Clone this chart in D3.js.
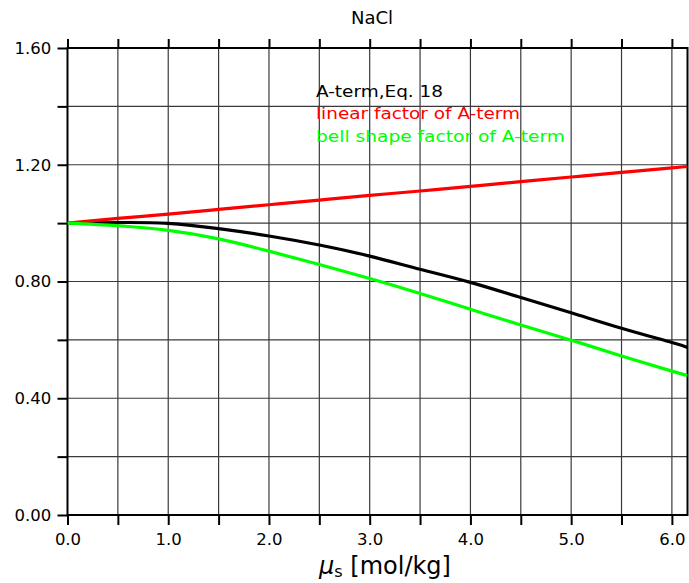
<!DOCTYPE html>
<html><head><meta charset="utf-8">
<script src="https://cdn.jsdelivr.net/npm/d3@7"></script>
<style>body{margin:0;background:#fff}svg{display:block}</style>
</head><body>
<svg id="c" width="689" height="583"></svg>
<script>
const xVals = [0, 0.5, 1, 1.5, 2, 2.5, 3, 3.5, 4, 4.5, 5, 5.5, 6, 6.155];
const aTerm = [1.0, 1.002, 0.999, 0.981, 0.956, 0.925, 0.887, 0.842, 0.797, 0.745, 0.693, 0.640, 0.591, 0.574];
const linearFactor = [1.0, 1.016, 1.031, 1.047, 1.063, 1.079, 1.095, 1.110, 1.126, 1.142, 1.158, 1.174, 1.189, 1.194];
const bellFactor = [1.0, 0.991, 0.975, 0.946, 0.904, 0.858, 0.810, 0.759, 0.705, 0.651, 0.599, 0.545, 0.493, 0.478];
const xTicks = [0,0.5,1,1.5,2,2.5,3,3.5,4,4.5,5,5.5,6];
const xLabels = [0,1,2,3,4,5,6];
const yTicks = [0,0.2,0.4,0.6,0.8,1.0,1.2,1.4,1.6];
const yLabels = [0,0.4,0.8,1.2,1.6];
const legendTexts = ["A-term,Eq. 18","linear factor of A-term","bell shape factor of A-term"];
const colors = ["#000000","#ff0000","#00ff00"];

const svg = d3.select("#c");
const L=67.5, R=687.5, T=48, B=515;
const x = d3.scaleLinear().domain([0,6.155]).range([L,R]);
const y = d3.scaleLinear().domain([0,1.6]).range([B,T]);
const font = "DejaVu Sans, Liberation Sans, sans-serif";

// grid
svg.append("g").selectAll("line").data(xTicks.slice(1)).join("line")
  .attr("x1",d=>x(d)).attr("x2",d=>x(d)).attr("y1",T).attr("y2",B)
  .attr("stroke","#3a3a3a").attr("stroke-width",1.2);
svg.append("g").selectAll("line").data(yTicks.slice(1)).join("line")
  .attr("x1",L).attr("x2",R).attr("y1",d=>y(d)).attr("y2",d=>y(d))
  .attr("stroke","#3a3a3a").attr("stroke-width",1.2);

// axes
const fmtX = d3.format(".1f"), fmtY = d3.format(".2f");
const gBottom = svg.append("g").attr("transform",`translate(0,${B})`)
  .call(d3.axisBottom(x).tickValues(xTicks).tickSizeInner(10).tickSizeOuter(0).tickFormat(d=>xLabels.includes(d)?fmtX(d):""));
const gTop = svg.append("g").attr("transform",`translate(0,${T})`)
  .call(d3.axisTop(x).tickValues(xTicks).tickSizeInner(9).tickSizeOuter(0).tickFormat(""));
const gLeft = svg.append("g").attr("transform",`translate(${L},0)`)
  .call(d3.axisLeft(y).tickValues(yTicks).tickSizeInner(10).tickSizeOuter(0).tickFormat(d=>yLabels.some(v=>Math.abs(v-d)<1e-9)?fmtY(d):""));
[gBottom,gTop,gLeft].forEach(g=>{
  g.select(".domain").remove();
  g.selectAll(".tick line").attr("stroke","#000").attr("stroke-width",2);
  g.selectAll("text").attr("font-family",font).attr("font-size",16.5).attr("fill","#000");
});
gBottom.selectAll("text").attr("dy","1.05em");
gLeft.selectAll("text").attr("dx","-0.2em");

// frame
svg.append("rect").attr("x",L).attr("y",T).attr("width",R-L).attr("height",B-T)
  .attr("fill","none").attr("stroke","#000").attr("stroke-width",2);

// curves
svg.append("clipPath").attr("id","pc").append("rect")
  .attr("x",L).attr("y",T).attr("width",R-L).attr("height",B-T);
const line = d3.line().x((d,i)=>x(xVals[i])).y(d=>y(d)).curve(d3.curveNatural);
[aTerm, linearFactor, bellFactor].forEach((s,i)=>{
  svg.append("path").datum(s).attr("d",line).attr("fill","none")
    .attr("stroke",colors[i]).attr("stroke-width",3.2).attr("clip-path","url(#pc)");
});

// legend
const legY=[97,119,142], legW=[127,204,249];
legendTexts.forEach((t,i)=>{
  svg.append("text").attr("x",316).attr("y",legY[i]).text(t)
    .attr("font-family",font).attr("font-size",16).attr("fill",colors[i])
    .attr("textLength",legW[i]).attr("lengthAdjust","spacingAndGlyphs");
});

// title
svg.append("text").attr("x",372).attr("y",24).attr("text-anchor","middle")
  .attr("font-family",font).attr("font-size",18).text("NaCl");

// x label
const xl = svg.append("text").attr("x",385).attr("y",574).attr("text-anchor","middle")
  .attr("font-family",font).attr("font-size",24);
xl.append("tspan").attr("font-style","italic").text("μ");
xl.append("tspan").attr("font-size",16).attr("dy",3).text("s");
xl.append("tspan").attr("dy",-3).attr("font-size",24).text(" [mol/kg]");
</script>
</body></html>
